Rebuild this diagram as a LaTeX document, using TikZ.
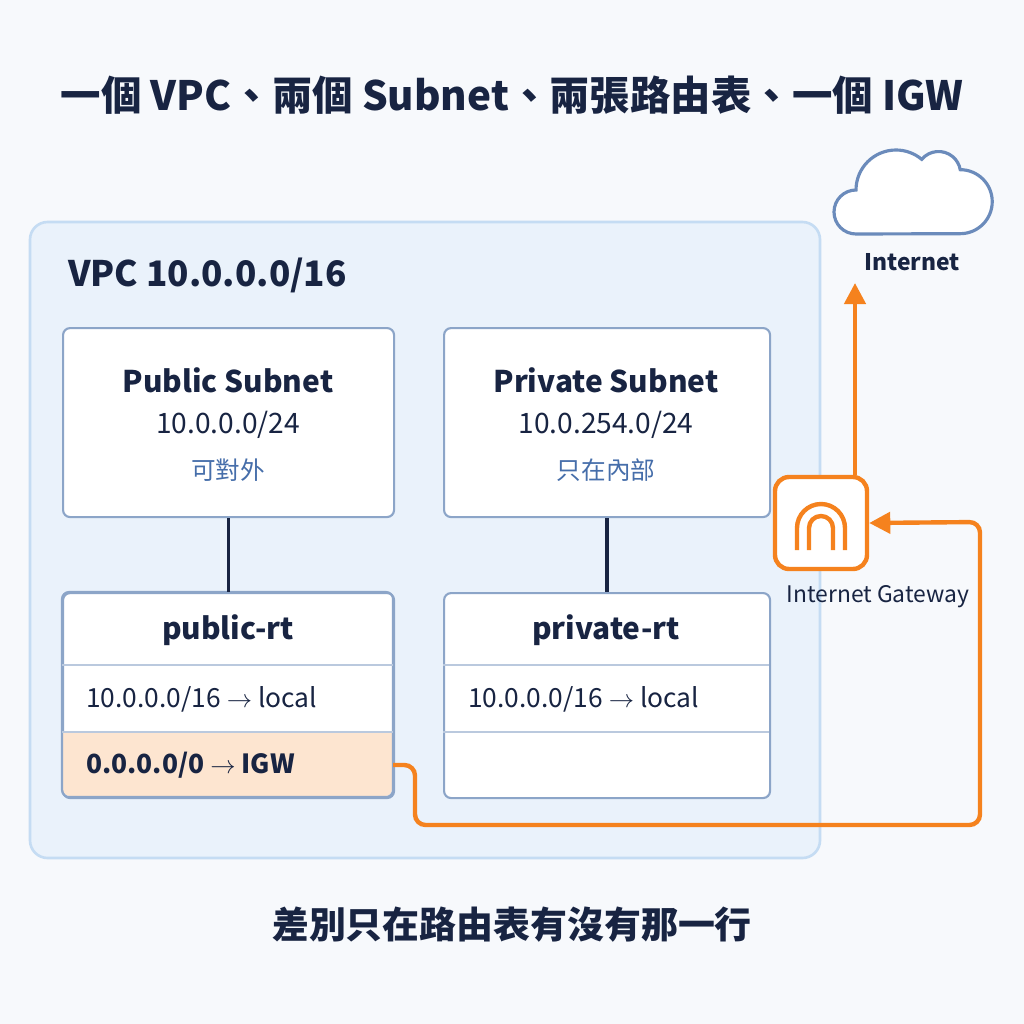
\documentclass[tikz,border=0pt]{standalone}
\usepackage{fontspec}
\setmainfont{Noto Sans CJK TC}
\usetikzlibrary{arrows.meta}
\definecolor{bgcol}{RGB}{247,249,252}
\definecolor{vpcfill}{RGB}{234,242,251}
\definecolor{vpcline}{RGB}{197,220,243}
\definecolor{boxline}{RGB}{140,165,200}
\definecolor{navy}{RGB}{24,36,66}
\definecolor{tagblue}{RGB}{70,110,170}
\definecolor{igw}{RGB}{245,130,30}
\definecolor{igwrow}{RGB}{253,229,208}
\tikzset{
  box/.style={draw=boxline,line width=1.2pt,fill=white,rounded corners=4pt,anchor=north west,inner sep=0pt},
  row/.style={anchor=west,text=navy,font=\fontsize{15}{18}\selectfont},
  orange/.style={draw=igw,line width=2.5pt}
}
\begin{document}
\begin{tikzpicture}[x=0.02cm,y=-0.02cm]
% Background
\fill[bgcol] (0,0) rectangle (1024,1024);
\useasboundingbox (0,0) rectangle (1024,1024);

% Title
\node[text=navy,font=\bfseries\fontsize{23}{28}\selectfont] (title) at (512,95) {一個 VPC、兩個 Subnet、兩張路由表、一個 IGW};

% VPC
\draw[vpcline,fill=vpcfill,line width=1.5pt,rounded corners=10pt] (30,222) rectangle (820,858);
\node[anchor=west,text=navy,font=\bfseries\fontsize{20}{24}\selectfont] (vpc) at (62,275) {VPC 10.0.0.0/16};

% Subnets
\node[box,minimum width=331*0.02cm,minimum height=189*0.02cm] (pub) at (62,327) {};
\node[text=navy,font=\bfseries\fontsize{17}{20}\selectfont] at (228,380) {Public Subnet};
\node[text=navy,font=\fontsize{16}{19}\selectfont] at (228,425) {10.0.0.0/24};
\node[text=tagblue,font=\fontsize{14}{17}\selectfont] at (228,470) {可對外};
\node[box,minimum width=326*0.02cm,minimum height=189*0.02cm] (priv) at (443,327) {};
\node[text=navy,font=\bfseries\fontsize{17}{20}\selectfont] at (606,380) {Private Subnet};
\node[text=navy,font=\fontsize{16}{19}\selectfont] at (606,425) {10.0.254.0/24};
\node[text=tagblue,font=\fontsize{14}{17}\selectfont] at (606,470) {只在內部};

% Route tables
\node[box,minimum width=331*0.02cm,minimum height=205*0.02cm] (pubrt) at (62,592) {};
\fill[igwrow,rounded corners=4pt] (63,732) rectangle (392,796);
\fill[igwrow] (63,732) rectangle (392,760);
\draw[boxline,line width=1.2pt,rounded corners=4pt] (62,592) rectangle (393,797);
\draw[boxline!60,line width=1pt] (62,665) -- (393,665) (62,732) -- (393,732);
\node[text=navy,font=\bfseries\fontsize{17}{20}\selectfont] at (228,630) {public-rt};
\node[row] at (80,699) {10.0.0.0/16 $\rightarrow$ local};
\node[row,font=\bfseries\fontsize{15}{18}\selectfont] (igwrt) at (80,765) {0.0.0.0/0 $\rightarrow$ IGW};

\node[box,minimum width=326*0.02cm,minimum height=205*0.02cm] (privrt) at (443,592) {};
\draw[boxline!60,line width=1pt] (443,665) -- (769,665) (443,732) -- (769,732);
\node[text=navy,font=\bfseries\fontsize{17}{20}\selectfont] at (606,630) {private-rt};
\node[row] at (462,699) {10.0.0.0/16 $\rightarrow$ local};

% Links subnet -> table
\draw[navy,line width=2pt] (pub.south) -- (pubrt.north);
\draw[navy,line width=2pt] (priv.south) -- (privrt.north);

% Internet Gateway
\node[draw=igw,line width=2.5pt,fill=white,rounded corners=8pt,minimum size=92*0.02cm] (gw) at (821,523) {};
\draw[igw,line width=2.5pt] (797,550) -- (797,528) arc[start angle=180,end angle=360,radius=24] -- (845,550);
\draw[igw,line width=2.5pt] (809,550) -- (809,528) arc[start angle=180,end angle=360,radius=12] -- (833,550);
\node[text=navy,font=\fontsize{13}{16}\selectfont] (gwl) at (878,597) {Internet Gateway};

% Internet cloud
\begin{scope}[shift={(906,192)},y=0.02cm]
\draw[tagblue!80,line width=1.8pt,fill=white]
  (-50,-42) arc[start angle=270,end angle=90,radius=22]
  arc[start angle=180,end angle=50,radius=40]
  arc[start angle=140,end angle=10,radius=22]
  arc[start angle=90,end angle=-90,radius=32] -- cycle;
\end{scope}
\node[text=navy,font=\bfseries\fontsize{13}{16}\selectfont] (inet) at (912,262) {Internet};
\coordinate (up) at (855,283);

% Traffic path
\draw[orange,-{Triangle[length=12pt,width=12pt]}] (gw.north -| up) -- (up);
\draw[orange,rounded corners=6pt,-{Triangle[length=12pt,width=12pt]}]
  (393,765) -- (415,765) -- (415,825) -- (980,825) -- (980,522) -- (gw.east);

% Footer
\node[text=navy,font=\bfseries\fontsize{21}{25}\selectfont] (foot) at (512,925) {差別只在路由表有沒有那一行};
\end{tikzpicture}
\end{document}
